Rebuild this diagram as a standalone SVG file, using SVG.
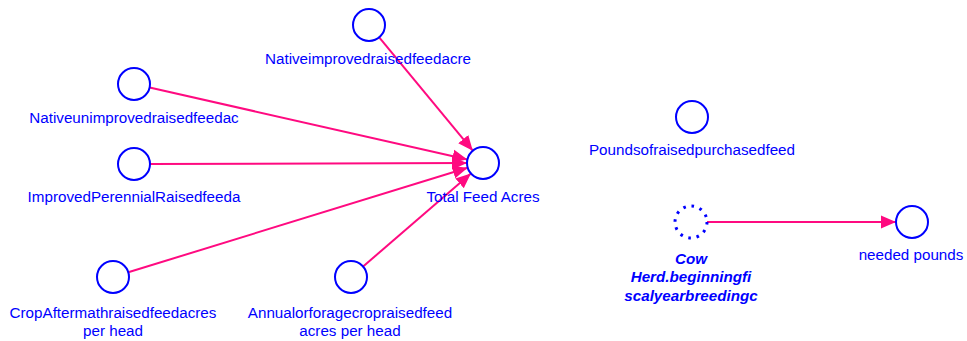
<svg xmlns="http://www.w3.org/2000/svg" width="967" height="341" viewBox="0 0 967 341">
<style>
.n{fill:none;stroke:#0000ff;stroke-width:2}
.d{fill:none;stroke:#0000ff;stroke-width:3;stroke-dasharray:2.6 5.78}
.t{font-family:"Liberation Sans",Arial,sans-serif;font-size:15.2px;fill:#0000ff;text-anchor:middle}
.b{font-weight:bold;font-style:italic}
.c{stroke:#ff0a80;stroke-width:2;fill:none;marker-end:url(#a)}
</style>
<defs>
<marker id="a" markerUnits="userSpaceOnUse" markerWidth="16" markerHeight="14" refX="15" refY="7" orient="auto" viewBox="0 0 16 14">
<path d="M0,0.5 L15,7 L0,13.5 Z" fill="#ff0a80"/>
</marker>
</defs>
<g id="connectors">
<line class="c" x1="379.2" y1="37.3" x2="472.8" y2="150.7"/>
<line class="c" x1="149.6" y1="87.5" x2="467.4" y2="159.5"/>
<line class="c" x1="150" y1="164" x2="467" y2="163.1"/>
<line class="c" x1="128.3" y1="272.3" x2="467.7" y2="167.7"/>
<line class="c" x1="363.1" y1="266.5" x2="470.9" y2="173.5"/>
<line class="c" x1="707" y1="222" x2="896" y2="222"/>
</g>
<g id="total"><circle class="n" cx="483" cy="163" r="16"/><text class="t" x="483" y="202">Total Feed Acres</text></g>
<g id="nativeimproved"><circle class="n" cx="369" cy="25" r="16"/><text class="t" x="368" y="64">Nativeimprovedraisedfeedacre</text></g>
<g id="nativeunimproved"><circle class="n" cx="134" cy="84" r="16"/><text class="t" x="134" y="123">Nativeunimprovedraisedfeedac</text></g>
<g id="improvedperennial"><circle class="n" cx="134" cy="164" r="16"/><text class="t" x="134" y="202">ImprovedPerennialRaisedfeeda</text></g>
<g id="cropaftermath"><circle class="n" cx="113" cy="277" r="16"/><text class="t" x="113" y="318">CropAftermathraisedfeedacres</text><text class="t" x="113" y="336">per head</text></g>
<g id="annual"><circle class="n" cx="351" cy="277" r="16"/><text class="t" x="350" y="318">Annualorforagecropraisedfeed</text><text class="t" x="350" y="336">acres per head</text></g>
<g id="pounds"><circle class="n" cx="692" cy="117" r="16"/><text class="t" x="692" y="155">Poundsofraisedpurchasedfeed</text></g>
<g id="cow"><circle class="d" cx="691" cy="222" r="16"/><text class="t b" x="691" y="264">Cow</text><text class="t b" x="691" y="282">Herd.beginningfi</text><text class="t b" x="691" y="301">scalyearbreedingc</text></g>
<g id="needed"><circle class="n" cx="912" cy="222" r="16"/><text class="t" x="911" y="260">needed pounds</text></g>
</svg>
